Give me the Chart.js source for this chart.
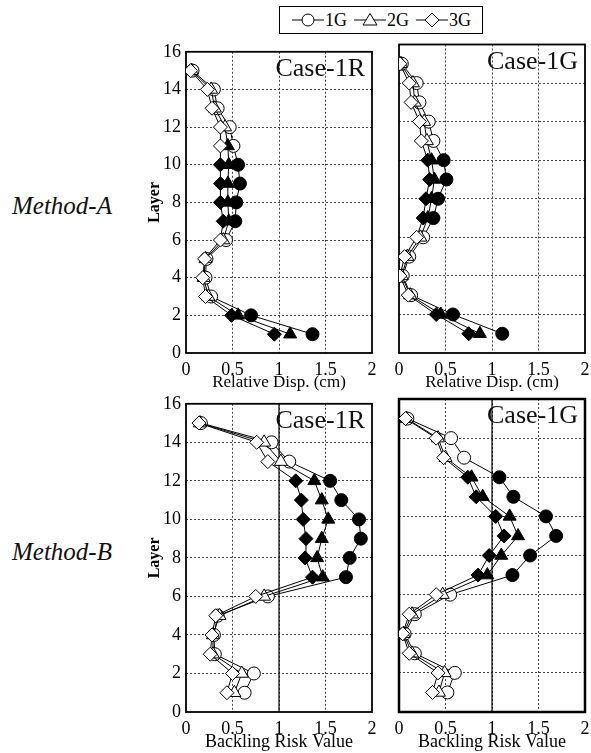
<!DOCTYPE html>
<html>
<head>
<meta charset="utf-8">
<script src="https://cdn.jsdelivr.net/npm/chart.js@4/dist/chart.umd.min.js"></script>
<style>
    body { margin: 0; background: #fff; }
    #page { position: relative; width: 591px; height: 753px; overflow: hidden; font-family: "Liberation Serif", serif; }
    canvas { position: absolute; }
    .method { position: absolute; left: 12px; font-style: italic; font-size: 25px; color: #111; }
    #legend { position: absolute; left: 279px; top: 6px; width: 202px; height: 26px; border: 1.5px solid #000;
              display: flex; align-items: center; justify-content: center; gap: 6px; font-size: 18px; }
    #legend span { display: flex; align-items: center; }
</style>
</head>
<body>
<div id="page">
    <div id="legend"></div>
    <div class="method" style="top:192px">Method-A</div>
    <div class="method" style="top:538px">Method-B</div>
    <canvas id="cA1R" width="247" height="357" style="left:145px;top:36px"></canvas>
    <canvas id="cA1G" width="220" height="357" style="left:385px;top:36px"></canvas>
    <canvas id="cB1R" width="247" height="365" style="left:145px;top:388px"></canvas>
    <canvas id="cB1G" width="220" height="365" style="left:385px;top:388px"></canvas>
</div>
<script>
var layers = [1, 2, 3, 4, 5, 6, 7, 8, 9, 10, 11, 12, 13, 14, 15];
var seriesNames = ['1G', '2G', '3G'];

// Method-A, relative displacement (cm)
var dispA1R_1G = [1.36, 0.70, 0.27, 0.21, 0.22, 0.43, 0.53, 0.54, 0.58, 0.56, 0.51, 0.47, 0.34, 0.30, 0.07];
var dispA1R_2G = [1.12, 0.56, 0.24, 0.19, 0.21, 0.40, 0.46, 0.45, 0.45, 0.46, 0.45, 0.42, 0.31, 0.27, 0.06];
var dispA1R_3G = [0.95, 0.49, 0.21, 0.18, 0.20, 0.37, 0.40, 0.37, 0.37, 0.37, 0.37, 0.37, 0.28, 0.23, 0.05];

var dispA1G_1G = [1.11, 0.58, 0.13, 0.04, 0.11, 0.26, 0.37, 0.42, 0.51, 0.48, 0.37, 0.32, 0.22, 0.19, 0.03];
var dispA1G_2G = [0.87, 0.45, 0.12, 0.03, 0.09, 0.23, 0.31, 0.35, 0.38, 0.35, 0.30, 0.27, 0.17, 0.15, 0.02];
var dispA1G_3G = [0.75, 0.40, 0.10, 0.01, 0.06, 0.19, 0.26, 0.29, 0.33, 0.31, 0.24, 0.22, 0.13, 0.11, 0.01];

// Method-B, backling risk value
var riskB1R_1G = [0.63, 0.73, 0.31, 0.30, 0.34, 0.88, 1.72, 1.76, 1.88, 1.86, 1.67, 1.55, 1.11, 0.92, 0.16];
var riskB1R_2G = [0.52, 0.60, 0.29, 0.29, 0.36, 0.84, 1.47, 1.41, 1.46, 1.53, 1.46, 1.38, 1.02, 0.84, 0.15];
var riskB1R_3G = [0.44, 0.50, 0.26, 0.28, 0.32, 0.75, 1.36, 1.28, 1.29, 1.26, 1.24, 1.18, 0.88, 0.76, 0.14];

var riskB1G_1G = [0.52, 0.60, 0.17, 0.06, 0.17, 0.55, 1.22, 1.41, 1.69, 1.58, 1.23, 1.08, 0.70, 0.56, 0.09];
var riskB1G_2G = [0.43, 0.49, 0.14, 0.05, 0.14, 0.47, 0.95, 1.10, 1.28, 1.19, 0.90, 0.78, 0.50, 0.42, 0.08];
var riskB1G_3G = [0.36, 0.42, 0.11, 0.04, 0.11, 0.40, 0.85, 0.97, 1.13, 1.04, 0.83, 0.74, 0.48, 0.40, 0.07];

// layers drawn with solid (black) markers, per series 1G / 2G / 3G
var filledA1R = [[1, 2, 7, 8, 9, 10], [1, 2, 7, 8, 9, 10, 11], [1, 2, 7, 8, 9, 10]];
var filledA1G = [[1, 2, 7, 8, 9, 10], [1, 2, 7, 8, 9, 10], [1, 2, 7, 8, 9, 10]];
var filledB1R = [[7, 8, 9, 10, 11, 12], [7, 8, 9, 10, 11, 12], [7, 8, 9, 10, 11, 12]];
var filledB1G = [[7, 8, 9, 10, 11, 12], [7, 8, 9, 10, 11, 12], [7, 8, 9, 10, 11, 12]];

var xTicks = [0, 0.5, 1, 1.5, 2];
var yTicks = [0, 2, 4, 6, 8, 10, 12, 14, 16];
var riskThreshold = 1;

var FONT = '"Liberation Serif", serif';
var markers = ['circle', 'triangle', 'rectRot'];
var markerSize = [6.5, 7.5, 7];

// frame, threshold line and the case label
var panelDeco = {
    id: 'panelDeco',
    beforeDatasetsDraw: function(chart, args, opts) {
        var a = chart.chartArea;
        var ctx = chart.ctx;
        ctx.save();
        ctx.strokeStyle = '#000';
        if (opts.threshold != null) {
            var x = chart.scales.x.getPixelForValue(opts.threshold);
            ctx.lineWidth = 1.2;
            ctx.beginPath();
            ctx.moveTo(x, a.top);
            ctx.lineTo(x, a.bottom);
            ctx.stroke();
        }
        ctx.lineWidth = opts.thick ? 2.5 : 1.8;
        ctx.strokeRect(a.left, a.top, a.right - a.left, a.bottom - a.top);
        ctx.restore();
    },
    afterDraw: function(chart, args, opts) {
        var a = chart.chartArea;
        var ctx = chart.ctx;
        ctx.save();
        ctx.font = '26px ' + FONT;
        ctx.fillStyle = '#111';
        ctx.textAlign = 'right';
        ctx.textBaseline = 'alphabetic';
        ctx.fillText(opts.label, a.right - 7, a.top + 24);
        ctx.restore();
    }
};

buildLegend();

makePanel('cA1R', [dispA1R_1G, dispA1R_2G, dispA1R_3G], filledA1R, {
    label: 'Case-1R', xTitle: 'Relative Disp. (cm)', titleSize: 17, showY: true, top: 8, right: 20, xHeight: 40 });
makePanel('cA1G', [dispA1G_1G, dispA1G_2G, dispA1G_3G], filledA1G, {
    label: 'Case-1G', xTitle: 'Relative Disp. (cm)', titleSize: 17, showY: false, top: 8, right: 20, xHeight: 40 });
makePanel('cB1R', [riskB1R_1G, riskB1R_2G, riskB1R_3G], filledB1R, {
    label: 'Case-1R', xTitle: 'Backling Risk Value', titleSize: 18, showY: true, top: 8, right: 20, xHeight: 41, threshold: riskThreshold });
makePanel('cB1G', [riskB1G_1G, riskB1G_2G, riskB1G_3G], filledB1G, {
    label: 'Case-1G', xTitle: 'Backling Risk Value', titleSize: 18, showY: false, top: 11, right: 20, xHeight: 41, threshold: riskThreshold, thick: true });

function buildLegend() {
    var legend = document.getElementById('legend');
    var shapes = [
        '<circle cx="17" cy="10" r="6" fill="#fff" stroke="#000"/>',
        '<polygon points="17,3.5 24,15 10,15" fill="#fff" stroke="#000"/>',
        '<polygon points="17,3 24,10 17,17 10,10" fill="#fff" stroke="#000"/>'
    ];
    for (var i = 0; i < seriesNames.length; i++) {
        var item = document.createElement('span');
        item.innerHTML = '<svg width="34" height="20"><line x1="1" y1="10" x2="33" y2="10" stroke="#000"/>' +
            shapes[i] + '</svg>' + seriesNames[i];
        legend.appendChild(item);
    }
}

function makePanel(id, values, filled, cfg) {
    var datasets = [];
    for (var s = 0; s < values.length; s++) {
        var points = [];
        var fills = [];
        for (var i = 0; i < layers.length; i++) {
            points.push({ x: values[s][i], y: layers[i] });
            fills.push(filled[s].indexOf(layers[i]) >= 0 ? '#000' : '#fff');
        }
        datasets.push({
            label: seriesNames[s],
            data: points,
            showLine: true,
            borderColor: '#000',
            borderWidth: 1,
            pointStyle: markers[s],
            pointRadius: markerSize[s],
            pointBorderColor: '#000',
            pointBorderWidth: 1,
            pointBackgroundColor: fills,
            order: 3 - s
        });
    }

    var gridColor = function(ctx) {
        var v = ctx.tick ? ctx.tick.value : null;
        return (v === ctx.scale.min || v === ctx.scale.max) ? 'rgba(0,0,0,0)' : '#444';
    };

    new Chart(document.getElementById(id), {
        type: 'scatter',
        data: { datasets: datasets },
        plugins: [panelDeco],
        options: {
            responsive: false,
            animation: false,
            layout: { padding: { top: cfg.top, right: cfg.right, left: 0, bottom: 0 } },
            plugins: {
                legend: { display: false },
                tooltip: { enabled: false },
                panelDeco: { label: cfg.label, threshold: cfg.threshold, thick: cfg.thick }
            },
            scales: {
                x: {
                    type: 'linear', min: 0, max: 2,
                    afterBuildTicks: function(scale) { scale.ticks = xTicks.map(function(v) { return { value: v }; }); },
                    afterFit: function(scale) { scale.height = cfg.xHeight; },
                    grid: { color: gridColor, lineWidth: 1, drawTicks: false },
                    border: { display: false, dash: [2, 2] },
                    ticks: { color: '#000', padding: 6, font: { family: FONT, size: 18 }, maxRotation: 0,
                             callback: function(v) { return String(v); } },
                    title: { display: true, text: cfg.xTitle, color: '#000', padding: 0,
                             font: { family: FONT, size: cfg.titleSize } }
                },
                y: {
                    type: 'linear', min: 0, max: 16,
                    afterBuildTicks: function(scale) { scale.ticks = yTicks.map(function(v) { return { value: v }; }); },
                    afterFit: function(scale) { scale.width = cfg.showY ? 41 : 14; },
                    grid: { color: gridColor, lineWidth: 1, drawTicks: false },
                    border: { display: false, dash: [2, 2] },
                    ticks: { display: cfg.showY, color: '#000', padding: 5, font: { family: FONT, size: 18 },
                             callback: function(v) { return String(v); } },
                    title: { display: cfg.showY, text: 'Layer', color: '#000', padding: 0,
                             font: { family: FONT, size: 16, weight: 'bold' } }
                }
            }
        }
    });
}
</script>
</body>
</html>
